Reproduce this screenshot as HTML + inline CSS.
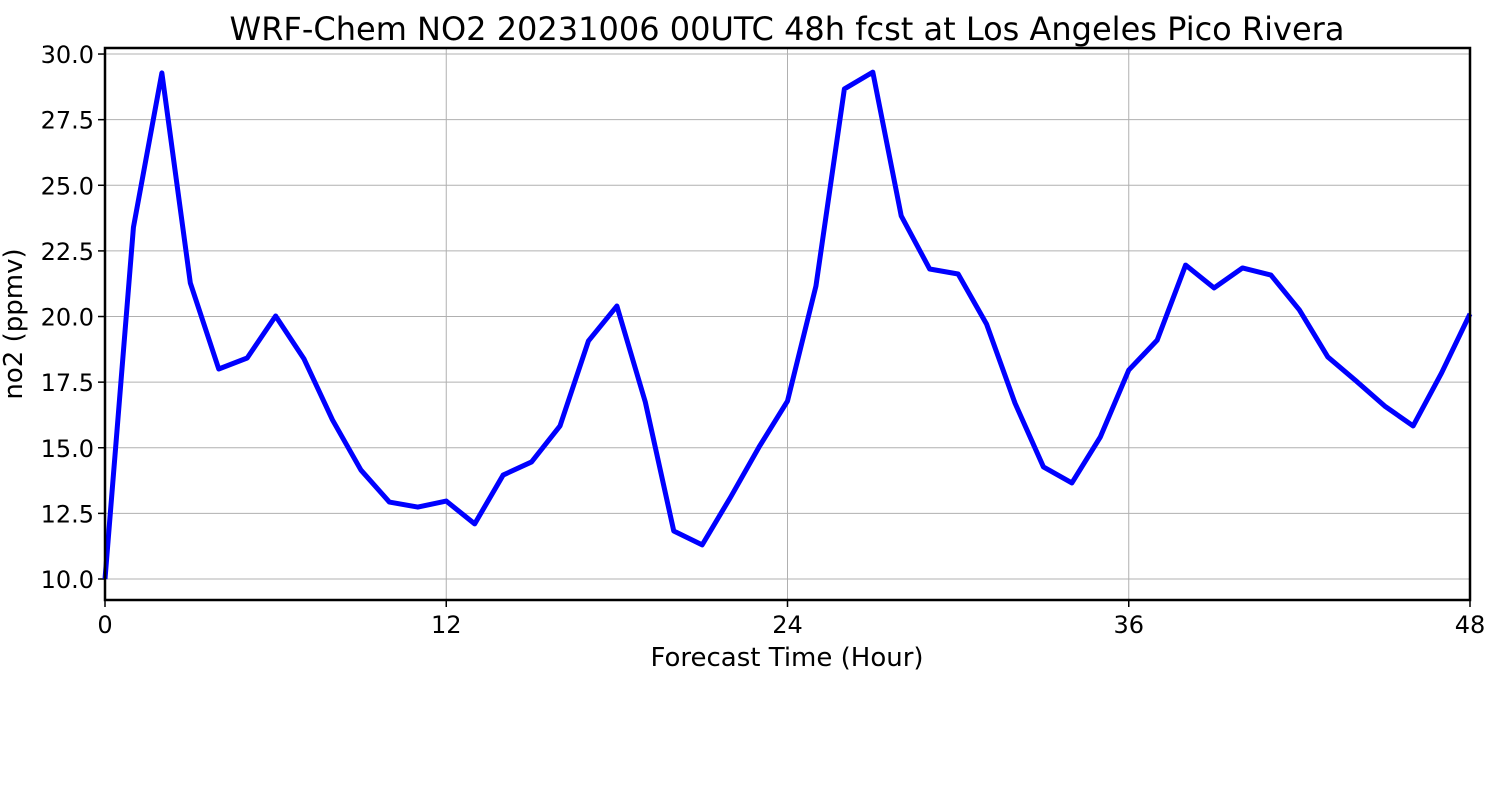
<!DOCTYPE html>
<html><head><meta charset="utf-8"><style>
body{margin:0;background:#fff;}
svg text{font-family:"DejaVu Sans","Liberation Sans",sans-serif;fill:#000;}
</style></head><body>
<svg id="chart" width="1500" height="800" xmlns="http://www.w3.org/2000/svg">
<rect width="1500" height="800" fill="#fff"/>
<text x="787" y="40" font-size="32" text-anchor="middle">WRF-Chem NO2  20231006 00UTC 48h fcst at Los Angeles Pico Rivera</text>
<g id="grid"></g>
<g id="ticks"></g>
<polyline id="line" fill="none" stroke="#0000ff" stroke-width="5" stroke-linejoin="round"/>
<rect x="105" y="48" width="1365" height="552" fill="none" stroke="#000" stroke-width="2.5"/>
<text x="787" y="666" font-size="26" text-anchor="middle">Forecast Time (Hour)</text>
<text transform="translate(22,324) rotate(-90)" font-size="26" text-anchor="middle">no2  (ppmv)</text>
</svg>
<script>
const hours=[0,1,2,3,4,5,6,7,8,9,10,11,12,13,14,15,16,17,18,19,20,21,22,23,24,25,26,27,28,29,30,31,32,33,34,35,36,37,38,39,40,41,42,43,44,45,46,47,48];
const no2=[10.0,23.4,29.28,21.28,18.0,18.42,20.02,18.38,16.06,14.15,12.93,12.74,12.97,12.1,13.96,14.46,15.83,19.07,20.4,16.74,11.83,11.3,13.12,15.03,16.78,21.16,28.67,29.31,23.83,21.81,21.62,19.71,16.7,14.27,13.66,15.41,17.96,19.1,21.96,21.09,21.85,21.58,20.25,18.46,17.54,16.59,15.83,17.85,20.1];
const xTicks=[0,12,24,36,48];
const yTicks=[10.0,12.5,15.0,17.5,20.0,22.5,25.0,27.5,30.0];
const X0=105,X1=1470,Y0=600,Y1=48,xmin=0,xmax=48,ymin=9.2,ymax=30.23;
const xs=v=>X0+(v-xmin)/(xmax-xmin)*(X1-X0);
const ys=v=>Y0-(v-ymin)/(ymax-ymin)*(Y0-Y1);
const NS="http://www.w3.org/2000/svg";
const grid=document.getElementById('grid'),tk=document.getElementById('ticks');
function mk(tag,attrs,parent){const e=document.createElementNS(NS,tag);for(const k in attrs)e.setAttribute(k,attrs[k]);parent.appendChild(e);return e;}
xTicks.forEach(t=>{
  const x=xs(t);
  const g=mk('line',{x1:x,x2:x,y1:Y1,y2:Y0,stroke:'#b0b0b0','stroke-width':1},grid);
  
  
  const m=mk('line',{x1:x,x2:x,y1:Y0,y2:Y0+7,stroke:'#000','stroke-width':1.5},tk);
  
  
  const l=mk('text',{x:x,y:Y0+33,'font-size':24,'text-anchor':'middle'},tk);
  l.textContent=t;
  
  
});
yTicks.forEach(t=>{
  const y=ys(t);
  const g=mk('line',{x1:X0,x2:X1,y1:y,y2:y,stroke:'#b0b0b0','stroke-width':1},grid);
  
  
  const m=mk('line',{x1:X0-7,x2:X0,y1:y,y2:y,stroke:'#000','stroke-width':1.5},tk);
  
  
  const l=mk('text',{x:X0-11,y:y+9,'font-size':24,'text-anchor':'end'},tk);
  l.textContent=t.toFixed(1);
  
  
});
document.getElementById('line').setAttribute('points',hours.map((h,i)=>xs(h)+','+ys(no2[i])).join(' '));
</script>
</body></html>
